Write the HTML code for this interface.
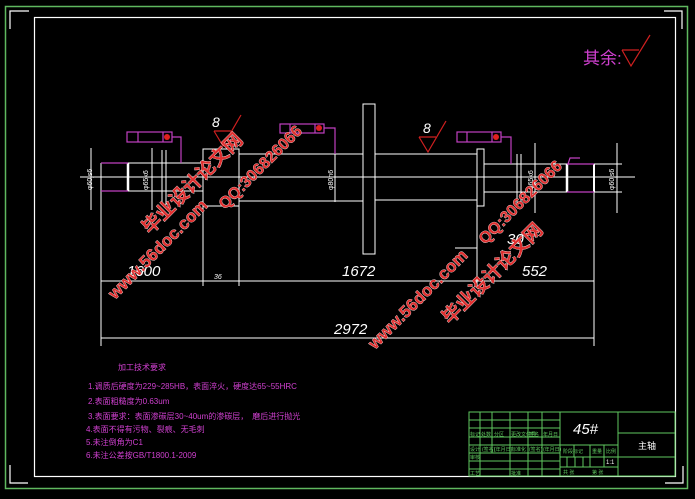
<!DOCTYPE html>
<html><head><meta charset="utf-8"><style>
html,body{margin:0;padding:0;background:#000;width:695px;height:499px;overflow:hidden}
svg{display:block}
text{font-family:"Liberation Sans","Noto Sans CJK SC",sans-serif}
</style></head><body>
<svg width="695" height="499" viewBox="0 0 695 499" xmlns="http://www.w3.org/2000/svg">
<rect width="695" height="499" fill="#000"/>
<rect x="5.5" y="6.5" width="682" height="482" fill="none" stroke="#5fb85f" stroke-width="1.5"/>
<rect x="34.5" y="17.5" width="641" height="459" fill="none" stroke="#fff" stroke-width="1.2"/>
<polyline points="10,29 10,11 29,11" fill="none" stroke="#fff" stroke-width="1.2"/>
<polyline points="10,465 10,483 28,483" fill="none" stroke="#fff" stroke-width="1.2"/>
<polyline points="664,11 682,11 682,29" fill="none" stroke="#fff" stroke-width="1.2"/>
<polyline points="683,466 683,483 665,483" fill="none" stroke="#fff" stroke-width="1.2"/>

<text x="583" y="64" fill="#d040d0" font-size="17">其余:</text>
<g stroke="#d02020" stroke-width="1.2" fill="none">
<line x1="622" y1="50" x2="639" y2="50"/><polyline points="622,50 631,66 650,35"/>
</g>

<g stroke="#fff" stroke-width="1" fill="none">
<line x1="80" y1="177" x2="635" y2="177"/>
<line x1="128" y1="163" x2="203" y2="163"/>
<line x1="128" y1="191" x2="203" y2="191"/>
<line x1="128" y1="163" x2="128" y2="191" stroke-width="2.5"/>
<line x1="162" y1="150" x2="162" y2="205"/><line x1="166" y1="150" x2="166" y2="205"/>
<rect x="203" y="149" width="36" height="57"/>
<line x1="239" y1="154" x2="363" y2="154"/><line x1="239" y1="201" x2="363" y2="201"/>
<rect x="363" y="104" width="12" height="150"/>
<line x1="375" y1="154" x2="477" y2="154"/><line x1="375" y1="200" x2="477" y2="200"/>
<rect x="477" y="149" width="7" height="57"/>
<line x1="484" y1="164" x2="567" y2="164"/><line x1="484" y1="192" x2="567" y2="192"/>
<line x1="517" y1="154" x2="517" y2="204"/><line x1="521" y1="154" x2="521" y2="204"/>
<line x1="567" y1="164" x2="567" y2="192" stroke-width="2.5"/>
<line x1="594" y1="164" x2="594" y2="192" stroke-width="2"/>
<line x1="594" y1="164" x2="622" y2="164"/><line x1="594" y1="192" x2="622" y2="192"/>
<line x1="101" y1="163" x2="101" y2="346"/>
<line x1="594" y1="192" x2="594" y2="346"/>
<line x1="203" y1="206" x2="203" y2="286"/>
<line x1="239" y1="206" x2="239" y2="286"/>
<line x1="477" y1="206" x2="477" y2="286"/>
<line x1="91" y1="148" x2="91" y2="210"/><line x1="152" y1="148" x2="152" y2="210"/>
<line x1="335" y1="153" x2="335" y2="202"/><line x1="535" y1="143" x2="535" y2="213"/><line x1="617" y1="143" x2="617" y2="213"/>
<line x1="101" y1="281" x2="594" y2="281"/>
<line x1="101" y1="338" x2="594" y2="338"/>
<line x1="455" y1="248" x2="477" y2="248"/>
</g>
<g fill="#fff" font-size="15" font-style="italic">
<text x="127" y="276">1600</text>
<text x="342" y="276">1672</text>
<text x="522" y="276">552</text>
<text x="334" y="334">2972</text>
<text x="507" y="244">30</text>
<text x="214" y="279" font-size="7">36</text>
</g>
<g fill="#fff" font-size="7">
<text transform="translate(92,190) rotate(-90)">φ60js6</text>
<text transform="translate(148,190) rotate(-90)">φ65k6</text>
<text transform="translate(333,190) rotate(-90)">φ80h6</text>
<text transform="translate(533,190) rotate(-90)">φ65k6</text>
<text transform="translate(614,190) rotate(-90)">φ60js6</text>
</g>
<g stroke="#c040c0" stroke-width="1.2" fill="none">
<line x1="101" y1="163" x2="128" y2="163"/><line x1="101" y1="191" x2="128" y2="191"/>
<line x1="567" y1="164" x2="594" y2="164"/><line x1="567" y1="192" x2="594" y2="192"/>
<rect x="127" y="132" width="45" height="10"/><line x1="138" y1="132" x2="138" y2="142"/><line x1="163" y1="132" x2="163" y2="142"/>
<polyline points="172,137 181,137 181,163"/>
<rect x="280" y="124" width="44" height="9"/><line x1="290" y1="124" x2="290" y2="133"/><line x1="315" y1="124" x2="315" y2="133"/>
<polyline points="324,128 335,128 335,154"/>
<rect x="457" y="132" width="44" height="10"/><line x1="467" y1="132" x2="467" y2="142"/><line x1="492" y1="132" x2="492" y2="142"/>
<polyline points="501,137 511,137 511,164"/>
<polyline points="568,164 570,158 580,158"/>
</g>
<g fill="#e02020"><circle cx="167" cy="137" r="3"/><circle cx="319" cy="128" r="3"/><circle cx="496" cy="137" r="3"/></g>
<g stroke="#d02020" stroke-width="1.2" fill="none">
<line x1="214" y1="131" x2="231" y2="131"/><polyline points="214,131 223,146 241,115"/>
<line x1="419" y1="137" x2="436" y2="137"/><polyline points="419,137 428,152 446,121"/>
</g>
<text x="212" y="127" fill="#fff" font-size="14" font-style="italic">8</text>
<text x="423" y="133" fill="#fff" font-size="14" font-style="italic">8</text>

<g fill="#d040d0" font-size="8">
<text x="118" y="370">加工技术要求</text>
<text x="88" y="389">1.调质后硬度为229~285HB，表面淬火，硬度达65~55HRC</text>
<text x="88" y="404">2.表面粗糙度为0.63um</text>
<text x="88" y="419">3.表面要求：表面渗碳层30~40um的渗碳层，　磨后进行抛光</text>
<text x="86" y="432">4.表面不得有污物、裂痕、无毛刺</text>
<text x="86" y="445">5.未注倒角为C1</text>
<text x="86" y="458">6.未注公差按GB/T1800.1-2009</text>
</g>

<g stroke="#5fc85f" stroke-width="1" fill="none">
<rect x="469" y="412" width="206" height="64"/>
<line x1="480" y1="412" x2="480" y2="476"/>
<line x1="492" y1="412" x2="492" y2="453"/>
<line x1="510" y1="412" x2="510" y2="476"/>
<line x1="528" y1="412" x2="528" y2="476"/>
<line x1="542" y1="412" x2="542" y2="476"/>
<line x1="560" y1="412" x2="560" y2="476"/>
<line x1="618" y1="412" x2="618" y2="476"/>
<line x1="469" y1="420" x2="560" y2="420"/>
<line x1="469" y1="428" x2="560" y2="428"/>
<line x1="469" y1="437" x2="560" y2="437"/>
<line x1="469" y1="445" x2="618" y2="445"/>
<line x1="469" y1="453" x2="560" y2="453"/>
<line x1="469" y1="461" x2="560" y2="461"/>
<line x1="469" y1="469" x2="560" y2="469"/>
<line x1="560" y1="457" x2="618" y2="457"/>
<line x1="560" y1="467" x2="618" y2="467"/>
<line x1="618" y1="433" x2="675" y2="433"/>
<line x1="618" y1="457" x2="675" y2="457"/>
<line x1="574" y1="445" x2="574" y2="457"/><line x1="590" y1="445" x2="590" y2="467"/><line x1="604" y1="445" x2="604" y2="467"/>
<line x1="567" y1="457" x2="567" y2="467"/><line x1="575" y1="457" x2="575" y2="467"/><line x1="583" y1="457" x2="583" y2="467"/>
</g>
<g fill="#5fc85f" font-size="5">
<text x="470" y="436">标记</text><text x="481" y="436">处数</text><text x="494" y="436">分区</text><text x="511" y="436">更改文件号</text><text x="529" y="436">签名</text><text x="543" y="436">年月日</text>
<text x="470" y="451">设计</text><text x="482" y="451">(签名)</text><text x="494" y="451">(年月日)</text><text x="511" y="451">标准化</text><text x="529" y="451">(签名)</text><text x="543" y="451">(年月日)</text>
<text x="470" y="459">审核</text><text x="470" y="475">工艺</text><text x="511" y="475">批准</text>
<text x="563" y="453">阶段标记</text><text x="592" y="453">重量</text><text x="606" y="453">比例</text>
<text x="563" y="474">共 张</text><text x="592" y="474">第 张</text>
</g>
<text x="606" y="464" fill="#fff" font-size="6">1:1</text>
<text x="573" y="434" fill="#fff" font-size="15" font-style="italic">45#</text>
<text x="638" y="449" fill="#fff" font-size="9">主轴</text>

<g font-weight="bold" fill="#e03030" stroke="#fff" stroke-width="0.6" paint-order="stroke">
<text transform="translate(150,235) rotate(-45)" font-size="19" font-family="Noto Sans CJK SC,sans-serif">毕业设计论文网</text>
<text transform="translate(115,300) rotate(-45)" font-size="17">www.56doc.com</text>
<text transform="translate(225,210) rotate(-45)" font-size="16">QQ:306826066</text>
<text transform="translate(375,350) rotate(-45)" font-size="17">www.56doc.com</text>
<text transform="translate(485,245) rotate(-45)" font-size="16">QQ:306826066</text>
<text transform="translate(450,325) rotate(-45)" font-size="19" font-family="Noto Sans CJK SC,sans-serif">毕业设计论文网</text>
</g>
</svg>
</body></html>
